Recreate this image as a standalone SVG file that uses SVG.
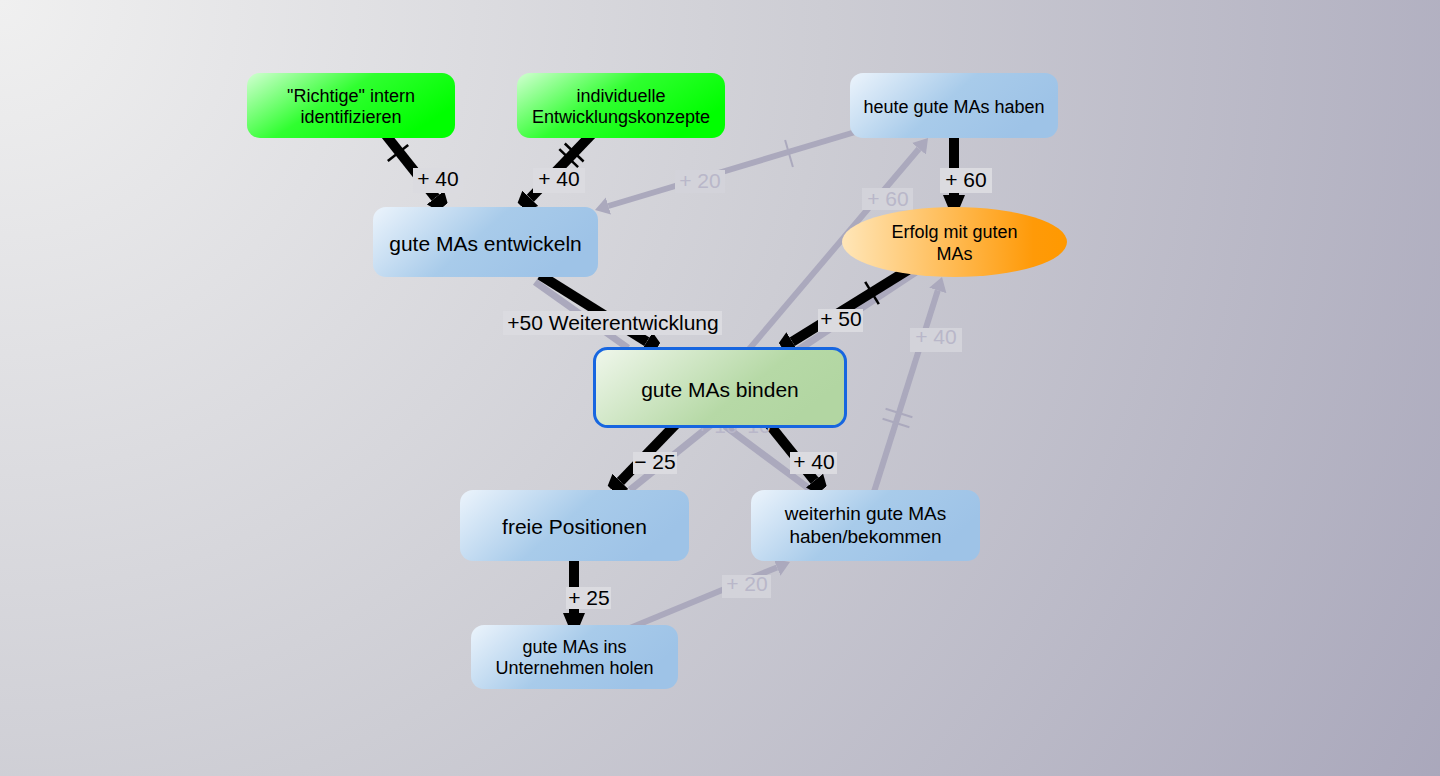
<svg xmlns="http://www.w3.org/2000/svg" width="1440" height="776" viewBox="0 0 1440 776">
<defs>
<radialGradient id="bg" cx="0" cy="0" r="1650" gradientUnits="userSpaceOnUse">
<stop offset="0" stop-color="#f0f0f0"/><stop offset="0.5" stop-color="#cdcdd4"/><stop offset="1" stop-color="#a9a7bb"/>
</radialGradient>
<linearGradient id="gBlue" x1="0" y1="0" x2="1" y2="0.35"><stop offset="0" stop-color="#ecf4fc"/><stop offset="0.55" stop-color="#a8cbea"/><stop offset="1" stop-color="#9ec3e7"/></linearGradient>
<linearGradient id="gGreen" x1="0" y1="0" x2="1" y2="0.5"><stop offset="0" stop-color="#d2ffd2"/><stop offset="0.5" stop-color="#30ff30"/><stop offset="1" stop-color="#00ff00"/></linearGradient>
<linearGradient id="gBind" x1="0" y1="0" x2="1" y2="0.4"><stop offset="0" stop-color="#f0f7ec"/><stop offset="0.7" stop-color="#b6d9a6"/><stop offset="1" stop-color="#b2d6a2"/></linearGradient>
<linearGradient id="gOrange" x1="0" y1="0" x2="1" y2="0"><stop offset="0" stop-color="#ffe6b8"/><stop offset="0.85" stop-color="#ff9a08"/><stop offset="1" stop-color="#ff9900"/></linearGradient>
<marker id="ab" markerUnits="userSpaceOnUse" viewBox="0 0 12 22" markerWidth="12" markerHeight="22" refX="0" refY="11" orient="auto"><path d="M0,0 L12,5 L12,17 L0,22 z" fill="#000"/></marker>
<marker id="ag" markerUnits="userSpaceOnUse" viewBox="0 0 14 18" markerWidth="14" markerHeight="18" refX="0" refY="9" orient="auto"><path d="M0,0 L14,9 L0,18 z" fill="#aba9bd"/></marker>
<style>
.eg{fill:none;stroke:#aba9bd;stroke-width:6}
.sh{fill:none;stroke:#aba9bd;stroke-width:7}
.eb{fill:none;stroke:#000;stroke-width:10}
.tb{stroke:#000;stroke-width:2.5}
.tg{stroke:#aba9bd;stroke-width:2}
.lb{fill:#dbdbe0}
.lg{fill:#d3d3da}
.t{font-family:"Liberation Sans",Arial,sans-serif;text-anchor:middle;fill:#000}
.el{font-size:21px}
.gt{fill:#b9b7c9}
.n18{font-size:18px}
.n21{font-size:21px}
</style>
</defs>
<rect width="1440" height="776" fill="url(#bg)"/>
<g id="connectors">
<path class="eg" d="M862,130 L608.4,206" marker-end="url(#ag)"/>
<path class="eg" d="M745,354 L919,148.7" marker-end="url(#ag)"/>
<path class="eg" d="M630,628 L777,567.4" marker-end="url(#ag)"/>
<path class="eg" d="M873,495 L937.8,290.4" marker-end="url(#ag)"/>
<path class="sh" d="M535,282 L628,348"/>
<path class="sh" d="M922,268 L798,350"/>
<path class="sh" d="M712,424 L630,490"/>
<path class="sh" d="M725,426 L811,490"/>
<path class="eb" d="M385,134 L435.5,197.6" marker-end="url(#ab)"/>
<path class="eb" d="M592,134 L530.3,198.3" marker-end="url(#ab)"/>
<path class="eb" d="M954,134 L954,195" marker-end="url(#ab)"/>
<path class="eb" d="M540,275 L646.8,341.7" marker-end="url(#ab)"/>
<path class="eb" d="M908,270 L792.2,341.7" marker-end="url(#ab)"/>
<path class="eb" d="M676,424 L620.4,481.4" marker-end="url(#ab)"/>
<path class="eb" d="M769,424 L814.5,480.6" marker-end="url(#ab)"/>
<path class="eb" d="M574,558 L574,613" marker-end="url(#ab)"/>
<line class="tb" x1="387.8" y1="161.1" x2="408.2" y2="144.9"/>
<line class="tb" x1="564.8" y1="143.5" x2="583.6" y2="161.5"/>
<line class="tb" x1="559.3" y1="149.2" x2="578.1" y2="167.2"/>
<line class="tg" x1="785.1" y1="140" x2="792.9" y2="167"/>
<line class="tb" x1="865.2" y1="281.9" x2="878.8" y2="304.1"/>
<line class="tg" x1="885.6" y1="408.8" x2="912.4" y2="417.2"/>
<line class="tg" x1="882.6" y1="418.8" x2="909.4" y2="427.2"/>
<text class="t el gt" x="717" y="433">+ 10</text>
<text class="t el gt" x="759" y="433">10</text>
<rect class="lb" x="413" y="168" width="50" height="25"/><text class="t el" x="438" y="186">+ 40</text>
<rect class="lb" x="533" y="168" width="52" height="25"/><text class="t el" x="559" y="186">+ 40</text>
<rect class="lb" x="940" y="168" width="52" height="25"/><text class="t el" x="966" y="187">+ 60</text>
<rect class="lb" x="503" y="311" width="219" height="24"/><text class="t el" x="613" y="330">+50 Weiterentwicklung</text>
<rect class="lb" x="818" y="309" width="45" height="23"/><text class="t el" x="841" y="326">+ 50</text>
<rect class="lb" x="633" y="452" width="44" height="22"/><text class="t el" x="655" y="469">− 25</text>
<rect class="lb" x="790" y="452" width="47" height="22"/><text class="t el" x="814" y="469">+ 40</text>
<rect class="lb" x="566" y="587" width="45" height="22"/><text class="t el" x="589" y="605">+ 25</text>
<rect class="lg" x="675" y="170" width="50" height="23"/><text class="t el gt" x="700" y="188">+ 20</text>
<rect class="lg" x="862" y="188" width="51" height="22"/><text class="t el gt" x="888" y="206">+ 60</text>
<rect class="lg" x="722" y="575" width="49" height="23"/><text class="t el gt" x="747" y="591">+ 20</text>
<rect class="lg" x="910" y="328" width="52" height="24"/><text class="t el gt" x="936" y="344">+ 40</text>
</g>
<g id="n-richtige"><rect x="247" y="73" width="208" height="65" rx="13" fill="url(#gGreen)"/><text class="t n18" x="351" y="102">"Richtige" intern</text><text class="t n18" x="351" y="123">identifizieren</text></g>
<g id="n-individuelle"><rect x="517" y="73" width="208" height="65" rx="13" fill="url(#gGreen)"/><text class="t n18" x="621" y="102">individuelle</text><text class="t n18" x="621" y="123">Entwicklungskonzepte</text></g>
<g id="n-heute"><rect x="850" y="73" width="208" height="65" rx="13" fill="url(#gBlue)"/><text class="t n18" x="954" y="113">heute gute MAs haben</text></g>
<g id="n-entwickeln"><rect x="373" y="207" width="225" height="70" rx="13" fill="url(#gBlue)"/><text class="t n21" x="485.5" y="251">gute MAs entwickeln</text></g>
<g id="n-erfolg"><ellipse cx="954.5" cy="242" rx="112.5" ry="35" fill="url(#gOrange)"/><text class="t n18" x="954.5" y="238">Erfolg mit guten</text><text class="t n18" x="954.5" y="260">MAs</text></g>
<g id="n-binden"><rect x="594.5" y="348.5" width="251" height="78" rx="13" fill="url(#gBind)" stroke="#1766e0" stroke-width="3"/><text class="t n21" x="720" y="397">gute MAs binden</text></g>
<g id="n-freie"><rect x="460" y="490" width="229" height="71" rx="13" fill="url(#gBlue)"/><text class="t n21" x="574.5" y="534">freie Positionen</text></g>
<g id="n-weiterhin"><rect x="751" y="490" width="229" height="71" rx="13" fill="url(#gBlue)"/><text class="t" style="font-size:19px" x="865.5" y="520">weiterhin gute MAs</text><text class="t" style="font-size:19px" x="865.5" y="543">haben/bekommen</text></g>
<g id="n-holen"><rect x="471" y="625" width="207" height="64" rx="13" fill="url(#gBlue)"/><text class="t n18" x="574.5" y="653">gute MAs ins</text><text class="t n18" x="574.5" y="674">Unternehmen holen</text></g>
</svg>
